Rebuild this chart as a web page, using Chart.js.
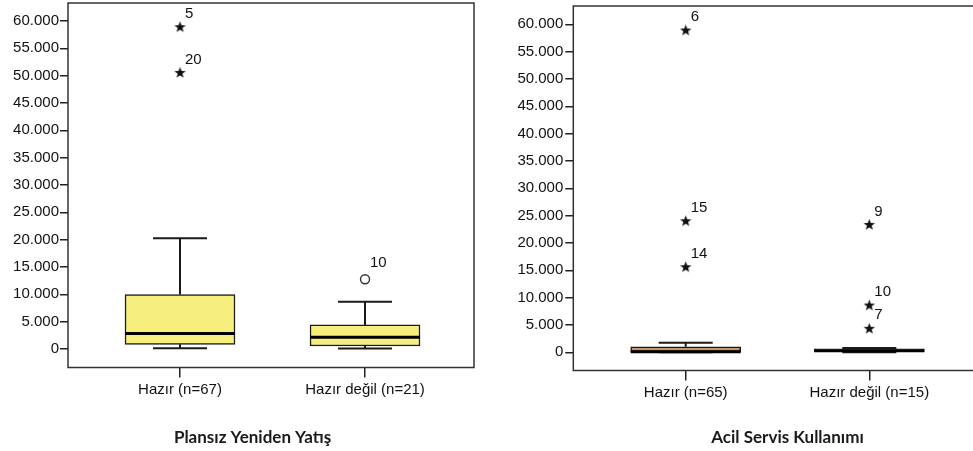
<!DOCTYPE html>
<html><head><meta charset="utf-8">
<script src="https://cdn.jsdelivr.net/npm/chart.js@4.4.0/dist/chart.umd.min.js"></script>
<style>
html,body{margin:0;padding:0;background:#fff;overflow:hidden;width:973px;height:451px;}
#wrap{position:relative;width:973px;height:451px;overflow:hidden;background:#fff;}
canvas{position:absolute;top:0;}
</style></head><body>
<div id="wrap">
<canvas id="c1" width="505" height="451" style="left:0px;width:505px;height:451px"></canvas>
<canvas id="c2" width="640" height="451" style="left:480px;width:640px;height:451px"></canvas>
</div>
<script>
// ---- data ----
const yTickValues = [0, 5000, 10000, 15000, 20000, 25000, 30000, 35000, 40000, 45000, 50000, 55000, 60000];
const yTickLabels = ['0', '5.000', '10.000', '15.000', '20.000', '25.000', '30.000', '35.000', '40.000', '45.000', '50.000', '55.000', '60.000'];

const leftTitle = 'Plansız Yeniden Yatış';
const leftCategories = ['Hazır (n=67)', 'Hazır değil (n=21)'];
const leftMin = [150, 100];
const leftQ1 = [850, 550];
const leftMedian = [2850, 2150];
const leftQ3 = [9950, 4400];
const leftMax = [20250, 8650];
const leftOutlierCat = [1, 1, 2];
const leftOutlierVal = [58950, 50600, 12750];
const leftOutlierLabel = ['5', '20', '10'];
const leftOutlierExtreme = [true, true, false];

const rightTitle = 'Acil Servis Kullanımı';
const rightCategories = ['Hazır (n=65)', 'Hazır değil (n=15)'];
const rightMin = [0, 0];
const rightQ1 = [0, 0];
const rightMedian = [100, 300];
const rightQ3 = [1000, 650];
const rightMax = [1750, 800];
const rightOutlierCat = [1, 1, 1, 2, 2, 2];
const rightOutlierVal = [58950, 24070, 15660, 23400, 8650, 4390];
const rightOutlierLabel = ['6', '15', '14', '9', '10', '7'];
const rightOutlierExtreme = [true, true, true, true, true, true];

// ---- star marker ----
const star = document.createElement('canvas');
star.width = 13; star.height = 13;
(function(){
  const g = star.getContext('2d');
  g.fillStyle = '#111';
  g.beginPath();
  for (let k = 0; k < 10; k++) {
    const r = k % 2 === 0 ? 6 : 2.5;
    const a = -Math.PI / 2 + k * Math.PI / 5;
    const px = 6.5 + r * Math.cos(a), py = 7 + r * Math.sin(a);
    if (k === 0) g.moveTo(px, py); else g.lineTo(px, py);
  }
  g.closePath();
  g.fill();
})();

const tickFont = {family: "'Liberation Sans', Arial, sans-serif", size: 15};
const ink = '#1a1a1a';

const framePlugin = {
  id: 'frame',
  afterDraw(chart) {
    const a = chart.chartArea, ctx = chart.ctx;
    ctx.save();
    ctx.strokeStyle = '#333';
    ctx.lineWidth = 1.5;
    ctx.strokeRect(a.left, a.top, a.right - a.left, a.bottom - a.top);
    const t = chart.options.plugins.bottomTitle;
    ctx.font = "bold 17px Lato, 'Open Sans', sans-serif";
    ctx.fillStyle = ink;
    ctx.textAlign = 'center';
    ctx.textBaseline = 'middle';
    ctx.fillText(t.text, t.x, t.y);
    ctx.restore();
  }
};
const labelPlugin = {
  id: 'outlierLabels',
  afterDatasetsDraw(chart) {
    const ctx = chart.ctx;
    ctx.save();
    ctx.font = "15px 'Liberation Sans', Arial, sans-serif";
    ctx.fillStyle = '#111';
    ctx.textAlign = 'left';
    ctx.textBaseline = 'middle';
    chart.data.datasets.forEach((ds, di) => {
      if (!ds.outlierLabels) return;
      chart.getDatasetMeta(di).data.forEach((el, j) => {
        ctx.fillText(ds.outlierLabels[j], el.x + 5, el.y + ds.labelDy);
      });
    });
    ctx.restore();
  }
};

function build(id, cfg) {
  const xs = cfg.categories.map((c, i) => i + 1);
  const whisker = [];
  xs.forEach((x, i) => {
    whisker.push({x, y: cfg.max[i]}, {x, y: cfg.q3[i]}, {x, y: null},
                 {x, y: cfg.q1[i]}, {x, y: cfg.min[i]}, {x, y: null});
  });
  const caps = [];
  xs.forEach((x, i) => { caps.push({x, y: cfg.max[i]}, {x, y: cfg.min[i]}); });
  const starIdx = cfg.oVal.map((v, k) => k).filter(k => cfg.oExt[k]);
  const circIdx = cfg.oVal.map((v, k) => k).filter(k => !cfg.oExt[k]);

  const datasets = [
    {type: 'bar', data: xs.map((x, i) => ({x, y: [cfg.q1[i], cfg.q3[i]]})),
     backgroundColor: cfg.fill, borderColor: ink, borderWidth: 1.5, borderSkipped: false,
     barThickness: 110, order: 6},
    {type: 'line', data: whisker, borderColor: ink, borderWidth: 2, pointRadius: 0,
     spanGaps: false, fill: false, order: 5},
    {type: 'line', data: caps, showLine: false, pointStyle: 'line', pointRadius: 27,
     pointBorderWidth: 2, pointBorderColor: ink, order: 4},
    {type: 'line', data: xs.map((x, i) => ({x, y: cfg.median[i]})), showLine: false,
     pointStyle: 'line', pointRadius: 55, pointBorderWidth: 3, pointBorderColor: '#000', order: 3},
    {type: 'line', data: starIdx.map(k => ({x: cfg.oCat[k], y: cfg.oVal[k]})), showLine: false,
     pointStyle: star, order: 2, outlierLabels: starIdx.map(k => cfg.oLab[k]), labelDy: -13},
    {type: 'line', data: circIdx.map(k => ({x: cfg.oCat[k], y: cfg.oVal[k]})), showLine: false,
     pointStyle: 'circle', pointRadius: 4.5, pointBackgroundColor: '#fff', pointBorderColor: '#333',
     pointBorderWidth: 1.4, order: 1, outlierLabels: circIdx.map(k => cfg.oLab[k]), labelDy: -16}
  ];

  return new Chart(document.getElementById(id), {
    type: 'bar',
    data: {datasets},
    options: {
      responsive: false, animation: false, devicePixelRatio: 1,
      events: [],
      layout: {autoPadding: false, padding: {top: cfg.top, right: cfg.right, left: 0, bottom: 24.4}},
      plugins: {
        legend: {display: false}, tooltip: {enabled: false}, title: {display: false},
        bottomTitle: {text: cfg.title, x: cfg.titleX, y: 437.5}
      },
      scales: {
        x: {type: 'linear', min: cfg.xMin, max: cfg.xMax, offset: false,
            border: {display: false},
            grid: {display: true, drawOnChartArea: false, drawTicks: true, tickLength: 10,
                   color: '#222', lineWidth: 1.5, offset: false},
            ticks: {padding: 3, font: tickFont, color: '#111', maxRotation: 0, autoSkip: false,
                    callback: v => cfg.categories[Math.round(v) - 1] || ''},
            afterBuildTicks: s => { s.ticks = xs.map(v => ({value: v})); },
            afterFit: s => { s.height = cfg.xHeight; s.paddingLeft = 0; s.paddingRight = 0; }},
        y: {type: 'linear', min: cfg.yMin, max: cfg.yMax,
            border: {display: false},
            grid: {display: true, drawOnChartArea: false, drawTicks: true, tickLength: 8,
                   color: '#222', lineWidth: 1.5},
            ticks: {padding: cfg.yPad, font: tickFont, color: '#111', autoSkip: false,
                    callback: v => { const k = yTickValues.indexOf(v); return k >= 0 ? yTickLabels[k] : ''; }},
            afterBuildTicks: s => { s.ticks = yTickValues.map(v => ({value: v})); },
            afterFit: s => { s.width = cfg.yWidth; s.paddingTop = 0; s.paddingBottom = 0; }}
      }
    },
    plugins: [framePlugin, labelPlugin]
  });
}

build('c1', {
  title: leftTitle, titleX: 252.5, categories: leftCategories,
  min: leftMin, q1: leftQ1, median: leftMedian, q3: leftQ3, max: leftMax,
  oCat: leftOutlierCat, oVal: leftOutlierVal, oLab: leftOutlierLabel, oExt: leftOutlierExtreme,
  fill: '#f6ef7e', top: 3, right: 31, xHeight: 59.1, yWidth: 68, yPad: 1,
  xMin: 0.3946, xMax: 2.589, yMin: -3384, yMax: 63293
});
build('c2', {
  title: rightTitle, titleX: 307.5, categories: rightCategories,
  min: rightMin, q1: rightQ1, median: rightMedian, q3: rightQ3, max: rightMax,
  oCat: rightOutlierCat, oVal: rightOutlierVal, oLab: rightOutlierLabel, oExt: rightOutlierExtreme,
  fill: '#c4956a', top: 6, right: 25, xHeight: 56.1, yWidth: 93.3, yPad: 2,
  xMin: 0.3878, xMax: 3.2293, yMin: -3329, yMax: 63348
});
</script>
</body></html>
